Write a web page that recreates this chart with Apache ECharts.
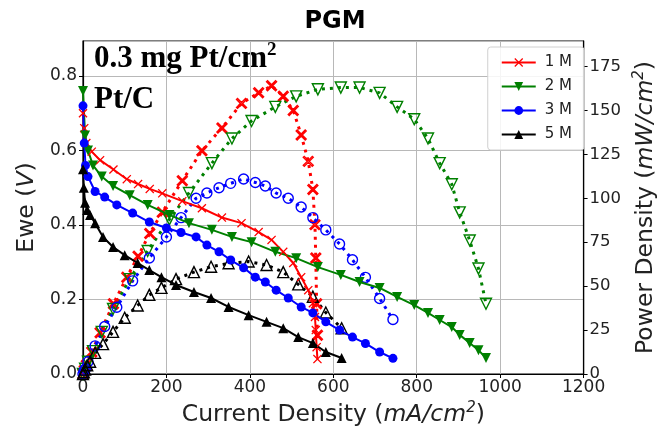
<!DOCTYPE html>
<html><head><meta charset="utf-8">
<script src="https://cdn.jsdelivr.net/npm/echarts@6/dist/echarts.min.js"></script>
<style>html,body{margin:0;padding:0;background:#fff}#c{width:666px;height:433px}</style>
</head><body><div id="c"></div>
<script>
// ---- data ----
const seriesNames = ['1 M', '2 M', '3 M', '5 M'];

const i1M = [0, 3, 8, 21, 41, 73, 105, 132, 160, 190, 238, 285, 333, 380, 421, 452, 480, 504, 523, 540, 551, 556, 558, 560, 562];
const v1M = [0.70, 0.66, 0.62, 0.597, 0.574, 0.549, 0.523, 0.51, 0.497, 0.485, 0.464, 0.445, 0.42, 0.405, 0.381, 0.36, 0.328, 0.298, 0.26, 0.225, 0.19, 0.153, 0.118, 0.072, 0.04];
const p1M = [0, 2, 5, 12.5, 23.5, 40, 55, 67, 80, 92, 110, 127, 140, 154, 160, 164, 158, 150, 136, 121, 105, 85, 66, 40, 22];

const i2M = [0, 5, 12, 24, 45, 72, 112, 155, 207, 254, 309, 357, 404, 461, 511, 563, 618, 663, 711, 753, 794, 827, 855, 884, 903, 927, 948, 966];
const v2M = [0.76, 0.64, 0.60, 0.56, 0.53, 0.505, 0.48, 0.454, 0.427, 0.405, 0.387, 0.368, 0.354, 0.328, 0.311, 0.287, 0.266, 0.247, 0.231, 0.207, 0.185, 0.164, 0.145, 0.126, 0.105, 0.083, 0.064, 0.043];
const p2M = [0, 3, 7, 13, 24, 37, 54, 70, 88, 103, 120, 134, 144, 152, 158, 162, 163, 163, 160, 152, 145, 134, 120, 108, 92, 76, 60, 40];

const i3M = [0, 3, 6, 12, 29, 52, 81, 119, 159, 200, 235, 271, 297, 326, 354, 385, 413, 437, 463, 492, 523, 551, 582, 615, 646, 677, 711, 743];
const v3M = [0.72, 0.62, 0.56, 0.53, 0.49, 0.475, 0.454, 0.432, 0.408, 0.392, 0.38, 0.368, 0.346, 0.328, 0.306, 0.285, 0.26, 0.247, 0.225, 0.204, 0.18, 0.164, 0.14, 0.118, 0.099, 0.082, 0.059, 0.042];
const p3M = [0, 2, 3, 7, 16, 27, 38, 53, 66, 78, 89, 100, 103, 106, 108.5, 111, 109, 107, 103, 100, 95, 89, 82, 74, 65, 55, 43, 31];

const i5M = [0, 2, 5, 10, 17, 29, 48, 72, 100, 131, 159, 188, 223, 266, 307, 349, 397, 440, 480, 516, 551, 582, 620];
const v5M = [0.55, 0.5, 0.46, 0.44, 0.427, 0.405, 0.368, 0.341, 0.319, 0.298, 0.279, 0.26, 0.239, 0.22, 0.204, 0.18, 0.158, 0.14, 0.123, 0.099, 0.083, 0.059, 0.043];
const p5M = [0, 1, 2.5, 5, 7, 12, 17, 24, 32, 39, 45, 49, 54, 58, 61, 63, 64, 62, 58, 51, 44, 35, 26];

const xTicks = [0, 200, 400, 600, 800, 1000, 1200];
const vTicks = [0.0, 0.2, 0.4, 0.6, 0.8];
const pTicks = [0, 25, 50, 75, 100, 125, 150, 175];

// ---- styling ----
const colors = ['#ff0000', '#008000', '#0000ff', '#000000'];
const X_PATH = 'path://M1,0 L5,4 L9,0 L10,1 L6,5 L10,9 L9,10 L5,6 L1,10 L0,9 L4,5 L0,1 Z';
const symbols = [X_PATH, 'triangle', 'circle', 'triangle'];
const rotates = [0, 180, 0, 0];
const sizes = [9, 10, 9, 10];

const pairs = (a, b) => a.map((x, k) => [x, b[k]]);
const currents = [i1M, i2M, i3M, i5M];
const volts = [v1M, v2M, v3M, v5M];
const powers = [p1M, p2M, p3M, p5M];

const series = [];
for (let k = 0; k < 4; k++) {
  series.push({
    name: seriesNames[k] + ' P', type: 'line', yAxisIndex: 1,
    data: pairs(currents[k], powers[k]),
    symbol: symbols[k], symbolRotate: rotates[k], symbolSize: sizes[k] + 1,
    showSymbol: true, showAllSymbol: true,
    lineStyle: { color: colors[k], width: 3, type: [3, 5], cap: 'butt' },
    itemStyle: { color: 'rgba(255,255,255,0)', borderColor: colors[k], borderWidth: 1.4 },
    z: 2
  });
}
for (let k = 0; k < 4; k++) {
  series.push({
    name: seriesNames[k], type: 'line', yAxisIndex: 0,
    data: pairs(currents[k], volts[k]),
    symbol: symbols[k], symbolRotate: rotates[k], symbolSize: sizes[k],
    showSymbol: true, showAllSymbol: true,
    lineStyle: { color: colors[k], width: 2 },
    itemStyle: { color: colors[k], borderWidth: 0 },
    z: 3
  });
}

const font = 'DejaVu Sans';
const nameRich = {
  n: { fontFamily: font, fontSize: 23.5, color: '#222' },
  i: { fontFamily: font, fontSize: 23.5, fontStyle: 'italic', color: '#222' },
  s: { fontFamily: font, fontSize: 15, fontStyle: 'italic', color: '#222', verticalAlign: 'top', padding: [0, 0, 13, 0] }
};
const chart = echarts.init(document.getElementById('c'), null, { renderer: 'canvas' });
chart.setOption({
  animation: false,
  backgroundColor: '#fff',
  title: {
    text: 'PGM', left: 330, top: 5, textAlign: 'center',
    textStyle: { fontFamily: font, fontWeight: 'bold', fontSize: 24, color: '#000' }
  },
  grid: { left: 83, right: 78, top: 41, bottom: 59, show: true, borderColor: '#000', borderWidth: 1.2, backgroundColor: 'transparent' },
  legend: {
    data: seriesNames, orient: 'vertical', right: 82, top: 47,
    itemWidth: 34, itemHeight: 11, itemGap: 9,
    padding: [8, 12, 8, 13],
    borderColor: '#d0d0d0', borderWidth: 1, borderRadius: 3, backgroundColor: 'rgba(255,255,255,0.85)',
    textStyle: { fontFamily: font, fontSize: 15, color: '#222', padding: [0, 0, 0, 4] }
  },
  xAxis: {
    type: 'value', min: xTicks[0], max: xTicks[xTicks.length - 1], interval: 200,
    name: '{n|Current Density (}{i|mA/cm}{s|2}{n|)}', nameLocation: 'middle', nameGap: 27,
    nameTextStyle: { rich: nameRich },
    axisLine: { show: true, lineStyle: { color: '#000', width: 1.2 } },
    axisTick: { show: true, inside: false, length: 4, lineStyle: { color: '#000' } },
    axisLabel: { fontFamily: font, fontSize: 17, color: '#222', margin: 5, formatter: v => String(v) },
    splitLine: { show: true, lineStyle: { color: '#b8b8b8', width: 1 } }
  },
  yAxis: [{
    type: 'value', min: vTicks[0], max: 0.894, interval: 0.2, position: 'left',
    name: '{n|Ewe (}{i|V}{n|)}', nameLocation: 'middle', nameGap: 43, nameRotate: 90,
    nameTextStyle: { rich: nameRich },
    axisLine: { show: true, lineStyle: { color: '#000', width: 1.2 } },
    axisTick: { show: true, inside: false, length: 4, lineStyle: { color: '#000' } },
    axisLabel: { fontFamily: font, fontSize: 17, color: '#222', margin: 6, showMaxLabel: false,
      formatter: v => v.toFixed(1) },
    splitLine: { show: true, lineStyle: { color: '#b8b8b8', width: 1 } }
  }, {
    type: 'value', min: pTicks[0], max: 189.5, interval: 25, position: 'right',
    name: '{n|Power Density (}{i|mW/cm}{s|2}{n|)}', nameLocation: 'middle', nameGap: 44, nameRotate: 90,
    nameTextStyle: { rich: nameRich },
    axisLine: { show: true, lineStyle: { color: '#000', width: 1.2 } },
    axisTick: { show: true, inside: false, length: 4, lineStyle: { color: '#000' } },
    axisLabel: { fontFamily: font, fontSize: 16.5, color: '#222', margin: 6, showMaxLabel: false },
    splitLine: { show: false }
  }],
  graphic: [{
    type: 'text', left: 94, top: 41,
    style: { text: '{a|0.3 mg Pt/cm}{s|2}', rich: {
      a: { fontFamily: 'Liberation Serif', fontWeight: 'bold', fontSize: 31, fill: '#000' },
      s: { fontFamily: 'Liberation Serif', fontWeight: 'bold', fontSize: 19, fill: '#000', verticalAlign: 'top', padding: [0, 0, 16, 0] }
    } }
  }, {
    type: 'text', left: 94, top: 84,
    style: { text: 'Pt/C', fontFamily: 'Liberation Serif', fontWeight: 'bold', fontSize: 31, fill: '#000' }
  }],
  series: series
});
</script>
</body></html>
